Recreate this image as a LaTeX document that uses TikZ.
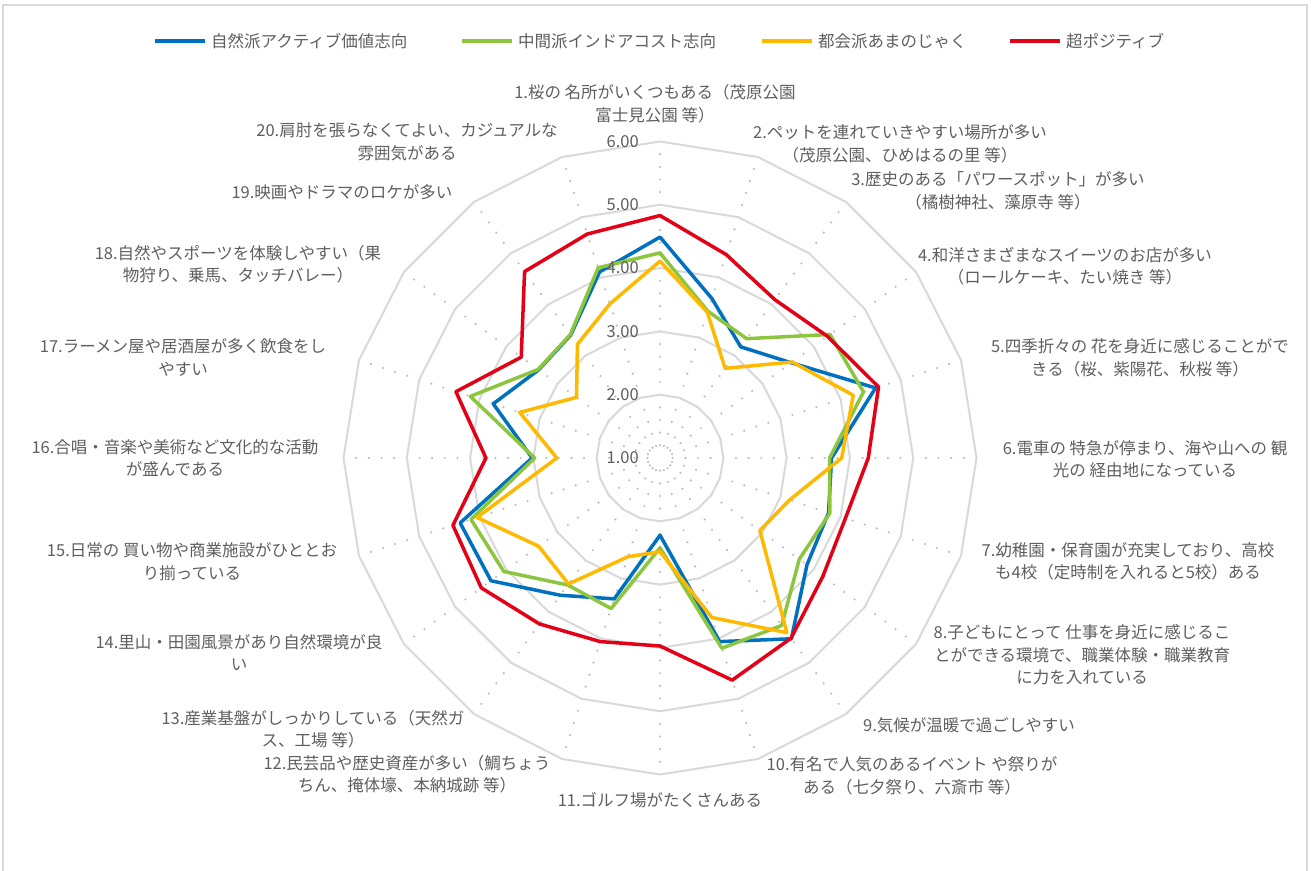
\documentclass[tikz,border=0pt]{standalone}
\usepackage{fontspec}
\setmainfont{Noto Sans CJK JP}
\definecolor{txtgrey}{RGB}{95,95,95}
\definecolor{gridgrey}{RGB}{217,217,217}
\definecolor{dotgrey}{RGB}{190,190,190}
\definecolor{natblue}{RGB}{0,112,192}
\definecolor{midgreen}{RGB}{140,198,63}
\definecolor{cityorange}{RGB}{255,185,0}
\definecolor{posred}{RGB}{228,0,23}

\begin{document}
\begin{tikzpicture}[x=1pt, y=1pt, font=\fontsize{16.5}{22.5}\selectfont, text=txtgrey,
  ring/.style={draw=gridgrey, line width=2pt},
  serie/.style={line width=3.5pt, line join=round},
  lbl/.style={align=center, inner sep=0pt}]
\useasboundingbox (0,0) rectangle (1311,870);
\fill[white] (0,0) rectangle (1311,870);
\draw[gridgrey, line width=1.5pt] (3,-5) -- (3,865) -- (1307,865) -- (1307,-5);

% legend
\foreach \col/\x/\name [count=\i] in {natblue/155/自然派アクティブ価値志向, midgreen/462/中間派インドアコスト志向,
    cityorange/762/都会派あまのじゃく, posred/1010/超ポジティブ} {
  \node[anchor=west, inner sep=0pt] (leg\i) at (\x+56,829) {\name};
  \coordinate (legl\i) at (\x,829);
  \draw[\col, line width=4pt] (legl\i) -- ([xshift=-6pt]leg\i.west);
}

\begin{scope}[shift={(660,412)}]
  % dotted spokes and rings
  \foreach \k in {0,...,19}
    \foreach \m in {1,...,24}
      \fill[dotgrey] ({90-18*\k}:{12.66*\m}) circle (1.2);
  \foreach \r in {1,...,5}
    \draw[ring] (90:{63.3*\r}) \foreach \k in {1,...,19}{ -- ({90-18*\k}:{63.3*\r})} -- cycle;
  % series
  \foreach \v [count=\i] in {4.49,3.65,3.17,3.56,4.58,3.71,3.80,3.87,4.53,4.05,2.22,3.34,3.68,4.30,4.32,3.02,3.77,3.37,3.40,4.09}
    \coordinate (b\i) at ({108-18*\i}:{63.3*(\v-1)});
  \foreach \v [count=\i] in {4.24,3.44,3.33,4.32,4.38,3.68,3.82,3.72,4.27,4.16,2.42,3.50,3.48,4.05,4.14,2.98,4.15,3.38,3.41,4.16}
    \coordinate (g\i) at ({108-18*\i}:{63.3*(\v-1)});
  \foreach \v [count=\i] in {4.11,3.42,2.75,3.58,4.21,3.87,3.15,2.95,4.41,3.65,2.48,2.64,3.46,3.37,4.04,2.63,3.33,2.63,3.22,3.56}
    \coordinate (o\i) at ({108-18*\i}:{63.3*(\v-1)});
  \foreach \v [count=\i] in {4.83,4.38,4.09,4.27,4.63,4.29,4.08,4.18,4.52,4.69,3.97,4.05,4.24,4.49,4.44,3.75,4.39,3.71,4.64,4.72}
    \coordinate (r\i) at ({108-18*\i}:{63.3*(\v-1)});
  \draw[serie, natblue] (b1) \foreach \i in {2,...,20}{ -- (b\i)} -- cycle;
  \draw[serie, midgreen] (g1) \foreach \i in {2,...,20}{ -- (g\i)} -- cycle;
  \draw[serie, cityorange] (o1) \foreach \i in {2,...,20}{ -- (o\i)} -- cycle;
  \draw[serie, posred] (r1) \foreach \i in {2,...,20}{ -- (r\i)} -- cycle;
\end{scope}

% axis values
\foreach \t in {1,...,6}
  \node[anchor=east, inner sep=0pt] (tick\t) at (639,{412+63.3*(\t-1)}) {\t.00};

% category labels
\node[lbl] (t1) at (655,766.5) {1.桜の 名所がいくつもある（茂原公園\\富士見公園 等）};
\node[lbl] (t2) at (900,726) {2.ペットを連れていきやすい場所が多い\\（茂原公園、ひめはるの里 等）};
\node[lbl] (t3) at (998,679) {3.歴史のある「パワースポット」が多い\\（橘樹神社、藻原寺 等）};
\node[lbl] (t4) at (1065,604) {4.和洋さまざまなスイーツのお店が多い\\（ロールケーキ、たい焼き 等）};
\node[lbl] (t5) at (1140,512) {5.四季折々の 花を身近に感じることがで\\きる（桜、紫陽花、秋桜 等）};
\node[lbl] (t6) at (1145,411) {6.電車の 特急が停まり、海や山への 観\\光の 経由地になっている};
\node[lbl] (t7) at (1128,308.5) {7.幼稚園・保育園が充実しており、高校\\も4校（定時制を入れると5校）ある};
\node[lbl] (t8) at (1082,215) {8.子どもにとって 仕事を身近に感じるこ\\とができる環境で、職業体験・職業教育\\に力を入れている};
\node[lbl] (t9) at (969,145) {9.気候が温暖で過ごしやすい};
\node[lbl] (t10) at (912,94) {10.有名で人気のあるイベント や祭りが\\ある（七夕祭り、六斎市 等）};
\node[lbl] (t11) at (660,70) {11.ゴルフ場がたくさんある};
\node[lbl] (t12) at (407,96) {12.民芸品や歴史資産が多い（鯛ちょう\\ちん、掩体壕、本納城跡 等）};
\node[lbl] (t13) at (313,141) {13.産業基盤がしっかりしている（天然ガ\\ス、工場 等）};
\node[lbl] (t14) at (239,217.5) {14.里山・田園風景があり自然環境が良\\い};
\node[lbl] (t15) at (192,308.5) {15.日常の 買い物や商業施設がひととお\\り揃っている};
\node[lbl] (t16) at (175,412) {16.合唱・音楽や美術など文化的な活動\\が盛んである};
\node[lbl] (t17) at (183,512.5) {17.ラーメン屋や居酒屋が多く飲食をし\\やすい};
\node[lbl] (t18) at (238,606) {18.自然やスポーツを体験しやすい（果\\物狩り、乗馬、タッチバレー）};
\node[lbl] (t19) at (342,678) {19.映画やドラマのロケが多い};
\node[lbl] (t20) at (407,728) {20.肩肘を張らなくてよい、カジュアルな\\雰囲気がある};
\end{tikzpicture}
\end{document}
